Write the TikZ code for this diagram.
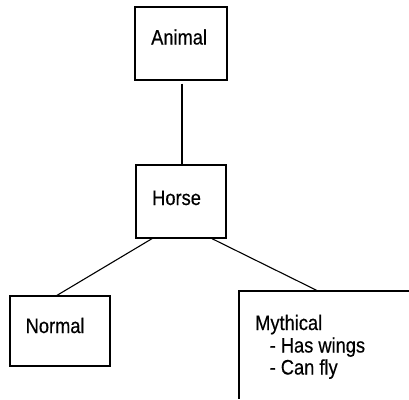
\documentclass[tikz,border=0pt]{standalone}
\usepackage{fontspec}
\newfontfamily\labelfont[FakeStretch=0.87,FakeBold=0.4]{Liberation Sans}
\begin{document}
\begin{tikzpicture}[x=1pt,y=-1pt,
  box/.style={draw,line width=1.3pt,rectangle,minimum width=#1,inner sep=0pt},
  txt/.style={anchor=base west,inner sep=0pt,font=\labelfont\fontsize{21}{22}\selectfont},
  link/.style={line width=1.1pt}]
  \useasboundingbox (0,0) rectangle (409,399);
  % boxes
  \node[box=92pt,minimum height=73pt] (animal) at (181,43.5) {};
  \node[box=90pt,minimum height=73pt] (horse) at (181,201.5) {};
  \node[box=100pt,minimum height=70pt] (normal) at (60,331) {};
  % open box at the lower right: only its top and left sides are drawn
  \coordinate (myth) at (239,291);
  \coordinate (mythR) at (409,291);
  \coordinate (mythB) at (239,399);
  \draw[line width=1.3pt] (mythR) -- (myth) -- (mythB);
  % labels
  \node[txt] (tanimal) at (151,44.5) {Animal};
  \node[txt] (thorse) at (152,205) {Horse};
  \node[txt] (tnormal) at (25.5,333) {Normal};
  \node[txt] (tmyth) at (255,330) {Mythical};
  \node[txt] (twings) at (269.5,352.5) {- Has wings};
  \node[txt] (tfly) at (269.5,374.5) {- Can fly};
  % connectors
  \draw[link] ([xshift=1pt,yshift=-3pt]animal.south) -- ([xshift=1pt]horse.north);
  \draw[link] ([xshift=-29pt]horse.south) -- ([xshift=-3pt]normal.north);
  \draw[link] ([xshift=31pt]horse.south) -- ([xshift=79pt]myth);
\end{tikzpicture}
\end{document}
